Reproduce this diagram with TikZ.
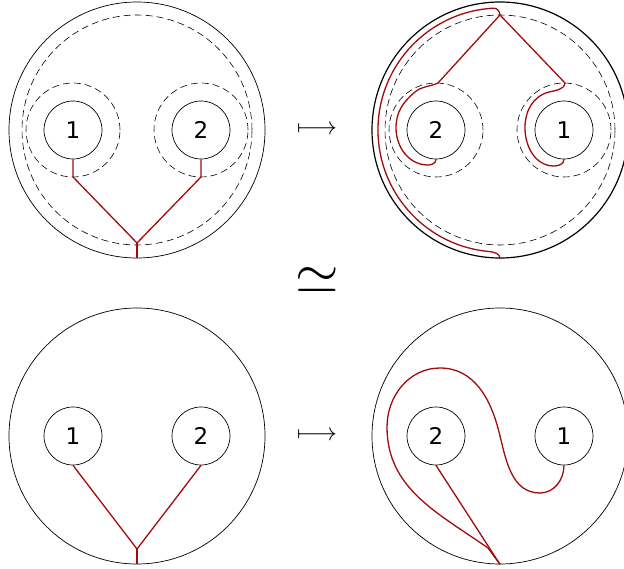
\documentclass[tikz,border=0pt]{standalone}
\usepackage{amsmath,amssymb}
\usepackage{fontspec}
\usepackage{tikz}
\usepackage{xcolor}
\newfontfamily\digitfont{DejaVu Sans}
\definecolor{strandred}{RGB}{160,12,12}
\tikzset{
  disk/.style={circle,draw,line width=0.7pt,minimum size=256pt,inner sep=0pt},
  hole/.style={circle,draw,line width=0.7pt,minimum size=58pt,inner sep=0pt,
    font=\fontsize{23}{28}\selectfont\digitfont},
  collar/.style={line width=0.6pt,dash pattern=on 7pt off 4pt},
  strand/.style={strandred,line width=1.3pt,line join=round},
  sym/.style={inner sep=0pt}
}

\begin{document}
\begin{tikzpicture}[x=1pt,y=1pt]
\useasboundingbox (0,0) rectangle (624,-569);
% top left
\node[disk] (A) at (137,-130) {};
\node[hole] (a1) at (73,-130) {1};
\node[hole] (a2) at (201,-130) {2};
\draw[collar] (A.center) circle[radius=115];
\draw[collar] (a1.center) circle[radius=47];
\draw[collar] (a2.center) circle[radius=47];
\coordinate (av) at (137,-243);
\draw[strand] (a1.south) -- (73,-177) -- (av) -- (201,-177) -- (a2.south);
\draw[strand] (av) -- (A.south);
% top right
\node[disk,line width=1.2pt] (B) at (500,-130) {};
\node[hole] (b2) at (436,-130) {2};
\node[hole] (b1) at (564,-130) {1};
\draw[collar] (B.center) circle[radius=115];
\draw[collar] (b2.center) circle[radius=47];
\draw[collar] (b1.center) circle[radius=47];
\coordinate (bv) at (500,-15);
\draw[strand] (bv) -- (438,-83) to[out=205,in=40] (415,-92)
  to[out=220,in=90] (396,-128) to[out=-90,in=180] (428,-165)
  to[out=0,in=-90] (b2.south);
\draw[strand] (bv) -- (565,-83) to[out=-100,in=15] (549,-92)
  to[out=195,in=90] (525,-128) to[out=-90,in=180] (554,-166)
  to[out=0,in=-90] (b1.south);
\draw[strand] (bv) to[out=95,in=3] (493.6,-8.2)
  arc[start angle=93,end angle=265,radius=122]
  to[out=-5,in=90] (B.south);
% maps
\node[sym] (m1) at (317,-130) {\fontsize{23.5}{28}\selectfont$\longmapsto$};
\node[sym] (eq) at (317,-281) {\scalebox{5.6}{$\simeq$}};
\node[sym] (m2) at (317,-436) {\fontsize{23.5}{28}\selectfont$\longmapsto$};
% bottom left
\node[disk] (C) at (137,-436) {};
\node[hole] (c1) at (73,-436) {1};
\node[hole] (c2) at (201,-436) {2};
\coordinate (cv) at (137,-549);
\draw[strand] (c1.south) -- (cv) -- (c2.south);
\draw[strand] (cv) -- (C.south);
% bottom right
\node[disk] (D) at (500,-436) {};
\node[hole] (d2) at (436,-436) {2};
\node[hole] (d1) at (564,-436) {1};
\draw[strand] (d2.south) -- (D.south);
\draw[strand] (d1.south) to[out=-90,in=0] (540,-493)
  to[out=180,in=-76] (499,-432) to[out=104,in=0] (440,-368)
  to[out=180,in=90] (387,-427) to[out=-90,in=145] (488,-548)
  -- (D.south);
\end{tikzpicture}
\end{document}
